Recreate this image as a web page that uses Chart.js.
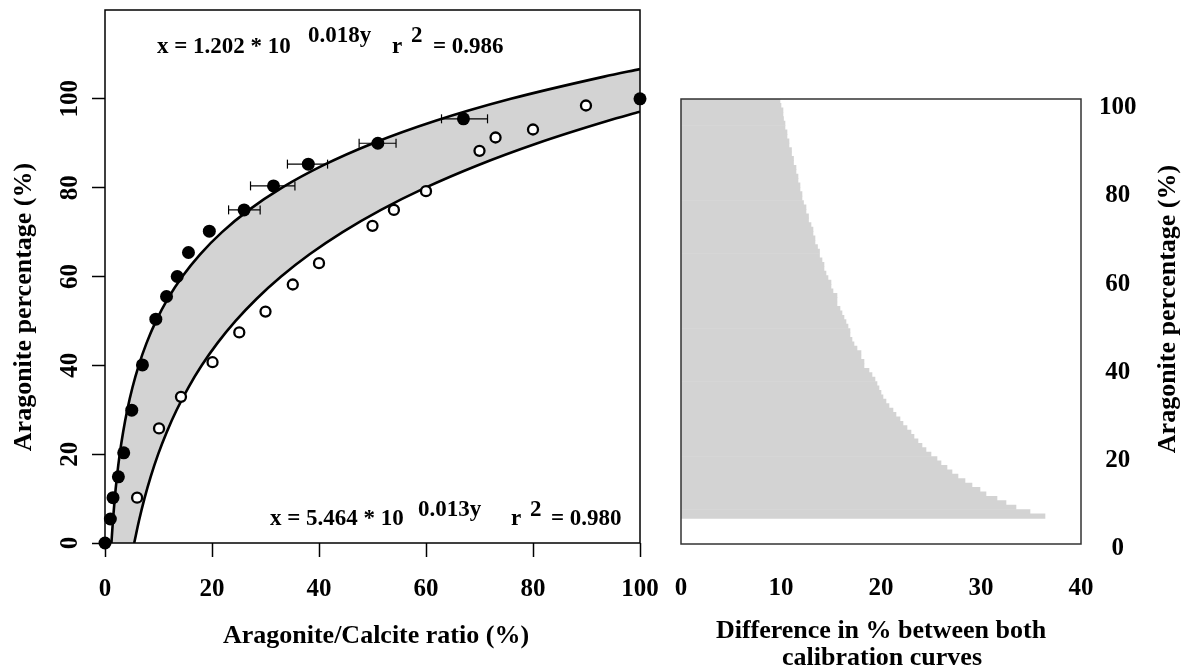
<!DOCTYPE html>
<html lang="en">
<head>
<meta charset="utf-8">
<script src="https://cdn.jsdelivr.net/npm/chart.js@4"></script>
<title>Aragonite calibration curves</title>
<style>
  body { margin: 0; background: #fff; }
  #wrap { position: relative; width: 1191px; height: 670px; }
  canvas { position: absolute; top: 0; }
  #left { left: 0; }
  #right { left: 668px; }
</style>
</head>
<body>
<div id="wrap">
  <canvas id="left" width="668" height="670"></canvas>
  <canvas id="right" width="523" height="670"></canvas>
</div>
<script>
// left panel: calibration points
const filledX = [0, 1.0, 1.5, 2.5, 3.5, 5.0, 7.0, 9.5, 11.5, 13.5, 15.6, 19.5, 26.0, 31.5, 38.0, 51.0, 67.0, 100];
const filledY = [0, 5.4, 10.2, 14.9, 20.3, 29.9, 40.1, 50.4, 55.5, 60.0, 65.4, 70.2, 75.0, 80.4, 85.3, 90.0, 95.5, 100];
const openX = [6.0, 10.1, 14.2, 20.1, 25.1, 30.0, 35.1, 40.0, 50.0, 54.0, 60.0, 70.0, 73.0, 80.0, 89.9];
const openY = [10.2, 25.8, 32.9, 40.7, 47.4, 52.1, 58.2, 63.0, 71.4, 75.0, 79.2, 88.3, 91.3, 93.1, 98.5];
// horizontal error bars on the filled points
const errY = [75.0, 80.4, 85.3, 90.0, 95.5];
const errLo = [23.1, 27.2, 34.1, 47.5, 62.9];
const errHi = [29.0, 35.5, 41.6, 54.4, 71.5];
// fitted curves
const upperX = [1.20, 1.48, 1.82, 2.24, 2.75, 3.39, 4.17, 5.13, 6.31, 7.76, 9.55, 11.75, 14.45, 17.78, 21.87, 26.91, 33.10, 40.73, 50.11, 61.65, 75.85, 93.3, 100];
const upperY = [0, 5, 10, 15, 20, 25, 30, 35, 40, 45, 50, 55, 60, 65, 70, 75, 80, 85, 90, 95, 100, 105, 106.7];
const lowerX = [5.46, 6.35, 7.37, 8.56, 9.94, 11.55, 13.41, 15.58, 18.09, 21.01, 24.41, 28.35, 32.92, 38.24, 44.41, 51.59, 59.91, 69.59, 80.82, 93.87, 100];
const lowerY = [0, 5, 10, 15, 20, 25, 30, 35, 40, 45, 50, 55, 60, 65, 70, 75, 80, 85, 90, 95, 97.1];
const leftXTicks = [0, 20, 40, 60, 80, 100];
const leftYTicks = [0, 20, 40, 60, 80, 100];

// right panel: difference between both curves
const barPos = [7, 8, 9, 10, 11, 12, 13, 14, 15, 16, 17, 18, 19, 20, 21, 22, 23, 24, 25, 26,
  27, 28, 29, 30, 31, 32, 33, 34, 35, 36, 37, 38, 39, 40, 41, 42, 43, 44, 45, 46,
  47, 48, 49, 50, 51, 52, 53, 54, 55, 56, 57, 58, 59, 60, 61, 62, 63, 64, 65, 66,
  67, 68, 69, 70, 71, 72, 73, 74, 75, 76, 77, 78, 79, 80, 81, 82, 83, 84, 85, 86,
  87, 88, 89, 90, 91, 92, 93, 94, 95, 96, 97, 98, 99, 100, 101];
const barDiff = [36.4, 34.9, 33.5, 32.5, 31.6, 30.5, 29.9, 29.1, 28.4, 27.7, 27.1, 26.6, 26.0, 25.6, 25.0, 24.5, 24.1, 23.7, 23.3, 23.0,
  22.6, 22.2, 21.9, 21.5, 21.2, 20.8, 20.5, 20.2, 20.0, 19.8, 19.6, 19.4, 19.1, 18.8, 18.3, 18.3, 18.0, 18.0, 17.6, 17.3,
  17.1, 16.9, 16.9, 16.7, 16.5, 16.3, 16.1, 15.9, 15.6, 15.6, 15.6, 15.2, 15.0, 15.0, 14.7, 14.5, 14.3, 14.3, 14.1, 13.85,
  13.85, 13.65, 13.4, 13.4, 13.2, 13.2, 13.0, 12.75, 12.75, 12.5, 12.5, 12.25, 12.1, 12.1, 11.9, 11.9, 11.7, 11.7, 11.5, 11.5,
  11.25, 11.25, 11.05, 11.05, 10.8, 10.8, 10.6, 10.6, 10.4, 10.4, 10.25, 10.2, 10.2, 10.0, 9.9];
const rightXTicks = [0, 10, 20, 30, 40];
const rightYTicks = [0, 20, 40, 60, 80, 100];

const serif = "'Liberation Serif', 'Times New Roman', serif";

function txt(ctx, s, x, y, size, opt = {}) {
  ctx.save();
  ctx.font = `bold ${size}px ${serif}`;
  ctx.fillStyle = '#000';
  ctx.textAlign = opt.align || 'left';
  ctx.textBaseline = 'alphabetic';
  ctx.translate(x, y);
  if (opt.rot) ctx.rotate(opt.rot);
  ctx.fillText(s, 0, 0);
  ctx.restore();
}

// fixed axis sizes, and no extra room for overhanging tick labels
const fixSize = (w, h) => s => {
  if (w) s.width = w;
  if (h) s.height = h;
  s.paddingLeft = s.paddingRight = s.paddingTop = s.paddingBottom = 0;
};

const boxPlugin = {
  id: 'box',
  afterDraw(chart, args, opts) {
    const a = chart.chartArea, ctx = chart.ctx;
    ctx.save();
    ctx.strokeStyle = opts.color;
    ctx.lineWidth = 1.5;
    ctx.strokeRect(a.left, a.top, a.right - a.left, a.bottom - a.top);
    ctx.restore();
  }
};

const leftText = {
  id: 'leftText',
  afterDraw(chart) {
    const ctx = chart.ctx;
    // fitted equations (superscripts drawn a bit higher)
    txt(ctx, 'x = 1.202 * 10', 157, 53, 23);
    txt(ctx, '0.018y', 308, 42, 23);
    txt(ctx, 'r', 392, 53, 23);
    txt(ctx, '2', 411, 42, 23);
    txt(ctx, '= 0.986', 433, 53, 23);
    txt(ctx, 'x = 5.464 * 10', 270, 525, 23);
    txt(ctx, '0.013y', 418, 516, 23);
    txt(ctx, 'r', 511, 525, 23);
    txt(ctx, '2', 530, 516, 23);
    txt(ctx, '= 0.980', 551, 525, 23);
    txt(ctx, 'Aragonite/Calcite ratio (%)', 376, 643, 26, { align: 'center' });
    txt(ctx, 'Aragonite percentage (%)', 31, 307, 26, { align: 'center', rot: -Math.PI / 2 });
  }
};

const rightText = {
  id: 'rightText',
  afterDraw(chart) {
    const ctx = chart.ctx;
    txt(ctx, 'Difference in % between both', 213, 638, 26, { align: 'center' });
    txt(ctx, 'calibration curves', 214, 665, 26, { align: 'center' });
    txt(ctx, 'Aragonite percentage (%)', 507, 309, 26, { align: 'center', rot: -Math.PI / 2 });
  }
};

const pts = (xs, ys) => xs.map((x, i) => ({ x: x, y: ys[i] }));

const errData = [];
errY.forEach((y, i) => {
  errData.push({ x: errLo[i], y: y }, { x: errHi[i], y: y }, { x: null, y: null });
});

const tickFont = (size) => ({ family: serif, size: size, weight: 'bold' });

new Chart(document.getElementById('left'), {
  type: 'scatter',
  data: {
    datasets: [
      { data: pts(filledX, filledY), pointRadius: 6.5, pointBackgroundColor: '#000', pointBorderWidth: 0, clip: false },
      { data: pts(openX, openY), pointRadius: 5, pointBackgroundColor: '#fff', pointBorderColor: '#000', pointBorderWidth: 2.3, clip: false },
      { data: errData, showLine: true, spanGaps: false, borderColor: '#000', borderWidth: 1.2,
        pointStyle: 'line', rotation: 90, pointRadius: 4.5, pointBorderColor: '#000', pointBorderWidth: 1.2 },
      { data: pts(lowerX, lowerY), showLine: true, borderColor: '#000', borderWidth: 2.6, pointRadius: 0,
        fill: 'origin', backgroundColor: '#fff', cubicInterpolationMode: 'monotone' },
      { data: pts(upperX, upperY), showLine: true, borderColor: '#000', borderWidth: 2.6, pointRadius: 0,
        fill: 'origin', backgroundColor: '#d3d3d3', cubicInterpolationMode: 'monotone' }
    ]
  },
  options: {
    responsive: false,
    animation: false,
    events: [],
    layout: { padding: { left: 0, top: 10, right: 28, bottom: 0 } },
    scales: {
      x: {
        type: 'linear', min: 0, max: 100,
        afterBuildTicks: s => { s.ticks = leftXTicks.map(v => ({ value: v })); },
        afterFit: fixSize(0, 127),
        grid: { drawOnChartArea: false, drawTicks: true, tickLength: 14, tickColor: '#000', tickWidth: 1.5 },
        border: { display: false },
        ticks: { font: tickFont(25), color: '#000', padding: 18, maxRotation: 0, autoSkip: false }
      },
      y: {
        type: 'linear', min: 0, max: 120,
        afterBuildTicks: s => { s.ticks = leftYTicks.map(v => ({ value: v })); },
        afterFit: fixSize(105, 0),
        grid: { drawOnChartArea: false, drawTicks: true, tickLength: 13, tickColor: '#000', tickWidth: 1.5 },
        border: { display: false },
        ticks: { font: tickFont(25), color: '#000', padding: 3, minRotation: 90, maxRotation: 90, crossAlign: 'center', autoSkip: false }
      }
    },
    plugins: {
      legend: { display: false },
      tooltip: { enabled: false },
      filler: { drawTime: 'beforeDatasetsDraw' },
      box: { color: '#000' }
    }
  },
  plugins: [boxPlugin, leftText]
});

new Chart(document.getElementById('right'), {
  type: 'bar',
  data: {
    datasets: [{
      data: pts(barDiff, barPos),
      backgroundColor: '#d3d3d3', borderWidth: 0,
      barPercentage: 1, categoryPercentage: 1
    }]
  },
  options: {
    indexAxis: 'y',
    responsive: false,
    animation: false,
    events: [],
    layout: { padding: { left: 13, top: 99, right: 0, bottom: 0 } },
    scales: {
      x: {
        type: 'linear', min: 0, max: 40,
        afterBuildTicks: s => { s.ticks = rightXTicks.map(v => ({ value: v })); },
        afterFit: fixSize(0, 126),
        grid: { display: false, drawTicks: false },
        border: { display: false },
        ticks: { font: tickFont(25), color: '#000', padding: 30, maxRotation: 0, autoSkip: false }
      },
      y: {
        type: 'linear', position: 'right', offset: false, min: 0.68, max: 101.5,
        afterBuildTicks: s => { s.ticks = rightYTicks.map(v => ({ value: v })); },
        afterFit: fixSize(110, 0),
        grid: { display: false, drawTicks: false },
        border: { display: false },
        ticks: { font: tickFont(25), color: '#000', padding: 18, labelOffset: 2, crossAlign: 'center', autoSkip: false }
      }
    },
    plugins: {
      legend: { display: false },
      tooltip: { enabled: false },
      box: { color: '#333' }
    }
  },
  plugins: [boxPlugin, rightText]
});
</script>
</body>
</html>
